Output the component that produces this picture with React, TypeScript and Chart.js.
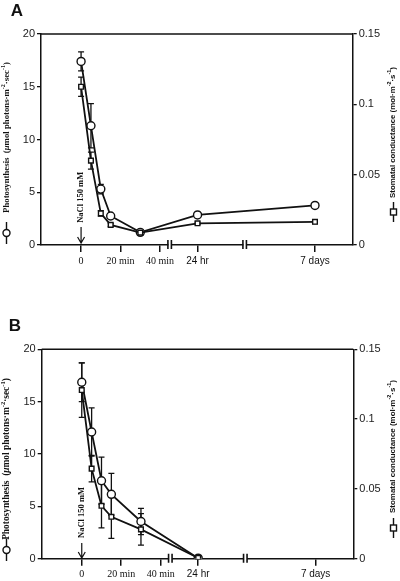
import React, { useEffect, useRef } from 'react';
import { Chart, registerables } from 'chart.js';
Chart.register(...registerables);

// ---- data ----
const xTickValues = [0, 20, 40, 59, 118.5];
const xTickLabels = ['0', '20 min', '40 min', '24 hr', '7 days'];
const breakPositions = [45, 83];
const yLeftTicks = [0, 5, 10, 15, 20];
const yRightTicks = [0, 0.05, 0.1, 0.15];
const yRightLabels = ['0', '0.05', '0.1', '0.15'];

const timeA = [0, 5, 10, 15, 30, 59, 118.5];
const photoA = [17.4, 11.3, 5.3, 2.75, 1.2, 2.85, 3.75];
const photoErrA = [0.9, 2.1, 0.45, 0.2, 0.1, 0.15, 0.25];
const condA = [0.1125, 0.06, 0.0225, 0.0143, 0.0088, 0.0154, 0.0165];
const condErrA = [0.0068, 0.006, 0.002, 0.001, 0.0008, 0.0008, 0.0012];

const timeB = [0, 5, 10, 15, 30, 59];
const photoB = [16.85, 12.1, 7.45, 6.15, 3.55, 0.05];
const photoErrB = [1.85, 2.3, 2.25, 2.0, 1.25, 0.1];
const condB = [0.1208, 0.0645, 0.0379, 0.03, 0.021, 0.0005];
const condErrB = [0.0195, 0.0095, 0.0158, 0.0154, 0.0113, 0.0005];

const leftTitle = [
  { t: 'Photosynthesis  (' },
  { t: 'μ', it: true },
  { t: 'mol photons·m' },
  { t: '-2', sup: true },
  { t: '·sec' },
  { t: '-1', sup: true },
  { t: ')' },
];
const rightTitle = [
  { t: 'Stomatal conductance (mol·m' },
  { t: '-2', sup: true },
  { t: '·s' },
  { t: '-1', sup: true },
  { t: ')' },
];
const naclText = 'NaCl 150 mM';

type Seg = { t: string; sup?: boolean; it?: boolean };

function drawRich(ctx: CanvasRenderingContext2D, segs: Seg[], family: string, weight: string, targetLen: number, cx: number, cy: number) {
  const measure = (size: number) => {
    let w = 0;
    for (const s of segs) {
      const sz = s.sup ? size * 0.7 : size;
      ctx.font = `${s.it ? 'italic ' : ''}${weight} ${sz}px ${family}`;
      w += ctx.measureText(s.t).width;
    }
    return w;
  };
  const base = 10;
  const size = base * targetLen / measure(base);
  const total = measure(size);
  ctx.save();
  ctx.translate(cx, cy);
  ctx.rotate(-Math.PI / 2);
  ctx.textBaseline = 'middle';
  ctx.textAlign = 'left';
  ctx.fillStyle = '#111';
  let x = -total / 2;
  for (const s of segs) {
    const sz = s.sup ? size * 0.7 : size;
    ctx.font = `${s.it ? 'italic ' : ''}${weight} ${sz}px ${family}`;
    ctx.fillText(s.t, x, s.sup ? -size * 0.35 : 0);
    x += ctx.measureText(s.t).width;
  }
  ctx.restore();
}

type Layout = {
  height: number;
  top: number;
  xH: number;
  leftW: number;
  rightW: number;
  letter: string;
  letterPos: [number, number];
  lt: { x: number; cy: number; len: number; marker: number };
  rt: { x: number; cy: number; len: number; marker: number };
  nacl: { cy: number; len: number; a0: number; a1: number };
};

const layoutA: Layout = {
  height: 290, top: 34, xH: 45, leftW: 41, rightW: 47.3, letter: 'A', letterPos: [17, 11],
  lt: { x: 6.5, cy: 137.5, len: 151, marker: 233 },
  rt: { x: 392.5, cy: 132.5, len: 131, marker: 212 },
  nacl: { cy: 197.3, len: 51, a0: 227, a1: 243 },
};
const layoutB: Layout = {
  height: 291, top: 59.3, xH: 22.3, leftW: 41.7, rightW: 46.7, letter: 'B', letterPos: [15, 36],
  lt: { x: 6.5, cy: 169, len: 162, marker: 260 },
  rt: { x: 392.5, cy: 156.5, len: 133, marker: 238 },
  nacl: { cy: 222.5, len: 51, a0: 253, a1: 268 },
};

function Panel({ time, photo, photoErr, cond, condErr, L }: any) {
  const ref = useRef<HTMLCanvasElement>(null);
  useEffect(() => {
    const lay: Layout = L;
    const decor = {
      id: 'decor',
      beforeDatasetsDraw(chart: any) {
        const ctx = chart.ctx;
        const xs = chart.scales.x;
        ctx.save();
        ctx.strokeStyle = '#111';
        ctx.lineWidth = 1.3;
        chart.data.datasets.forEach((ds: any) => {
          const ys = chart.scales[ds.yAxisID];
          ds.data.forEach((pt: any, j: number) => {
            const e = ds.errors[j];
            if (!e) return;
            const px = xs.getPixelForValue(pt.x);
            const t = ys.getPixelForValue(pt.y + e);
            const b = ys.getPixelForValue(Math.max(0, pt.y - e));
            ctx.beginPath();
            ctx.moveTo(px, t); ctx.lineTo(px, b);
            ctx.moveTo(px - 3, t); ctx.lineTo(px + 3, t);
            ctx.moveTo(px - 3, b); ctx.lineTo(px + 3, b);
            ctx.stroke();
          });
        });
        ctx.restore();
      },
      afterDraw(chart: any) {
        const ctx = chart.ctx;
        const ca = chart.chartArea;
        const xs = chart.scales.x;
        ctx.save();
        ctx.strokeStyle = '#111';
        ctx.fillStyle = '#111';
        ctx.lineWidth = 1.5;
        ctx.beginPath();
        ctx.moveTo(ca.left, ca.top); ctx.lineTo(ca.right, ca.top);
        ctx.stroke();
        breakPositions.forEach((bv) => {
          const px = xs.getPixelForValue(bv);
          ctx.fillStyle = '#fff';
          ctx.fillRect(px - 1.5, ca.bottom - 2, 3, 4);
          ctx.strokeStyle = '#111';
          ctx.lineWidth = 1.6;
          ctx.beginPath();
          ctx.moveTo(px - 2, ca.bottom - 5); ctx.lineTo(px - 2, ca.bottom + 4);
          ctx.moveTo(px + 1.5, ca.bottom - 5); ctx.lineTo(px + 1.5, ca.bottom + 4);
          ctx.stroke();
        });
        ctx.fillStyle = '#111';
        ctx.font = 'bold 17px "Liberation Sans", Arial, sans-serif';
        ctx.textAlign = 'center';
        ctx.textBaseline = 'middle';
        ctx.fillText(lay.letter, lay.letterPos[0], lay.letterPos[1]);
        drawRich(ctx, leftTitle, '"Liberation Serif", serif', 'bold', lay.lt.len, lay.lt.x, lay.lt.cy);
        drawRich(ctx, rightTitle, '"Liberation Sans", sans-serif', 'bold', lay.rt.len, lay.rt.x, lay.rt.cy);
        ctx.lineWidth = 1.4;
        ctx.strokeStyle = '#111';
        ctx.beginPath();
        ctx.moveTo(lay.lt.x, lay.lt.marker - 11); ctx.lineTo(lay.lt.x, lay.lt.marker + 11);
        ctx.moveTo(lay.rt.x + 1, lay.rt.marker - 10); ctx.lineTo(lay.rt.x + 1, lay.rt.marker + 10);
        ctx.stroke();
        ctx.fillStyle = '#fff';
        ctx.beginPath();
        ctx.arc(lay.lt.x, lay.lt.marker, 3.5, 0, Math.PI * 2);
        ctx.fill(); ctx.stroke();
        ctx.fillRect(lay.rt.x + 1 - 3, lay.rt.marker - 3, 6, 6);
        ctx.strokeRect(lay.rt.x + 1 - 3, lay.rt.marker - 3, 6, 6);
        const x0 = xs.getPixelForValue(0);
        drawRich(ctx, [{ t: naclText }], '"Liberation Serif", serif', 'bold', lay.nacl.len, x0, lay.nacl.cy);
        ctx.lineWidth = 1.2;
        ctx.beginPath();
        ctx.moveTo(x0, lay.nacl.a0); ctx.lineTo(x0, lay.nacl.a1);
        ctx.moveTo(x0 - 3.5, lay.nacl.a1 - 6); ctx.lineTo(x0, lay.nacl.a1); ctx.lineTo(x0 + 3.5, lay.nacl.a1 - 6);
        ctx.stroke();
        ctx.restore();
      },
    };

    const common = {
      borderColor: '#111',
      borderWidth: 1.8,
      pointBackgroundColor: '#fff',
      pointBorderColor: '#111',
      pointBorderWidth: 1.4,
      tension: 0,
      fill: false,
    };

    const chart = new Chart(ref.current as HTMLCanvasElement, {
      type: 'line',
      data: {
        datasets: [
          {
            ...common,
            label: 'Stomatal conductance',
            data: time.map((t: number, i: number) => ({ x: t, y: cond[i] })),
            yAxisID: 'y1',
            pointStyle: 'rect',
            pointRadius: 3.3,
            errors: condErr,
          } as any,
          {
            ...common,
            label: 'Photosynthesis',
            data: time.map((t: number, i: number) => ({ x: t, y: photo[i] })),
            yAxisID: 'y',
            pointStyle: 'circle',
            pointRadius: 4,
            errors: photoErr,
          } as any,
        ],
      },
      options: {
        animation: false,
        responsive: false,
        devicePixelRatio: 1,
        layout: { padding: { top: lay.top, left: 0, right: 0, bottom: 0 } },
        plugins: { legend: { display: false }, tooltip: { enabled: false } },
        scales: {
          x: {
            type: 'linear',
            min: -20.3,
            max: 137.6,
            afterBuildTicks: (s: any) => { s.ticks = xTickValues.map((v) => ({ value: v })); },
            afterFit: (s: any) => { s.height = lay.xH; },
            ticks: {
              autoSkip: false,
              maxRotation: 0,
              padding: 3,
              color: '#111',
              callback: (v: any) => xTickLabels[xTickValues.indexOf(Number(v))] ?? '',
              font: (c: any) => (c.index < 3
                ? { family: '"Liberation Serif", serif', size: 10 }
                : { family: '"Liberation Sans", sans-serif', size: 10 }),
            },
            grid: { drawOnChartArea: false, drawTicks: true, tickLength: 7, color: '#111', lineWidth: 1.5 },
            border: { display: true, color: '#111', width: 1.5 },
          },
          y: {
            type: 'linear',
            position: 'left',
            min: 0,
            max: 20,
            afterBuildTicks: (s: any) => { s.ticks = yLeftTicks.map((v) => ({ value: v })); },
            afterFit: (s: any) => { s.width = lay.leftW; },
            ticks: { padding: 2, color: '#222', font: { family: '"Liberation Sans", sans-serif', size: 11 } },
            grid: { drawOnChartArea: false, drawTicks: true, tickLength: 4, color: '#111', lineWidth: 1.3 },
            border: { display: true, color: '#111', width: 1.5 },
          },
          y1: {
            type: 'linear',
            position: 'right',
            min: 0,
            max: 0.15,
            afterBuildTicks: (s: any) => { s.ticks = yRightTicks.map((v) => ({ value: v })); },
            afterFit: (s: any) => { s.width = lay.rightW; },
            ticks: {
              padding: 2,
              color: '#222',
              font: { family: '"Liberation Sans", sans-serif', size: 11 },
              callback: (v: any) => yRightLabels[yRightTicks.findIndex((t) => Math.abs(t - Number(v)) < 1e-6)] ?? '',
            },
            grid: { drawOnChartArea: false, drawTicks: true, tickLength: 4, color: '#111', lineWidth: 1.3 },
            border: { display: true, color: '#111', width: 1.5 },
          },
        },
      } as any,
      plugins: [decor],
    });
    return () => chart.destroy();
  }, []);
  return <canvas ref={ref} width={400} height={L.height} style={{ display: 'block', width: 400, height: L.height }} />;
}

export default function App() {
  return (
    <div style={{ position: 'absolute', left: 0, top: 0, width: 400, height: 581, background: '#fff' }}>
      <Panel time={timeA} photo={photoA} photoErr={photoErrA} cond={condA} condErr={condErrA} L={layoutA} />
      <Panel time={timeB} photo={photoB} photoErr={photoErrB} cond={condB} condErr={condErrB} L={layoutB} />
    </div>
  );
}
